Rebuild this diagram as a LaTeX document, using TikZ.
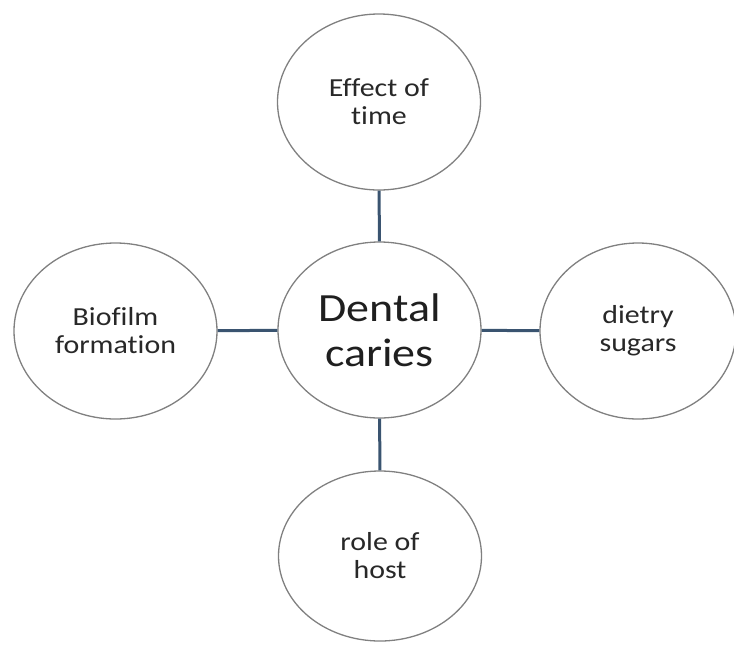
\documentclass[tikz,border=0pt]{standalone}
\usepackage{fontspec}
\setmainfont{Carlito}[FakeStretch=1.15, Ligatures=NoCommon]
\usetikzlibrary{shapes.geometric}

\definecolor{rimgray}{RGB}{128,128,128}
\definecolor{spokeblue}{RGB}{58,84,112}
\definecolor{txtgray}{RGB}{40,40,40}

\tikzset{
  bubble/.style={ellipse, draw=rimgray, line width=1.3pt, fill=white,
    minimum width=203pt, minimum height=176pt, inner sep=0pt,
    align=center, text=txtgray, font=\fontsize{26}{28}\selectfont},
  hub/.style={bubble, text=black!88, font=\fontsize{40}{45}\selectfont},
  spoke/.style={draw=spokeblue, line width=3pt}
}

\begin{document}
\begin{tikzpicture}[x=1pt,y=1pt,yscale=-1,xscale=1]

            \useasboundingbox (0,0) rectangle (734,646);

            %Shape: Ellipse [centre]
            \node[hub] (caries) at (379.5,330) {Dental\\caries};
            %Shape: Ellipse [top]
            \node[bubble] (time) at (379,102) {Effect of\\time};
            %Shape: Ellipse [left]
            \node[bubble] (biofilm) at (115.5,331) {Biofilm\\formation};
            %Shape: Ellipse [right]
            \node[bubble, minimum width=196pt] (sugars) at (638,331) {dietry\\sugars};
            %Shape: Ellipse [bottom]
            \node[bubble, minimum height=170pt] (host) at (380,556) {role of\\host};

            %Straight Lines
            \draw[spoke] (caries) -- (time);
            \draw[spoke] (caries) -- (biofilm);
            \draw[spoke] (caries) -- (sugars);
            \draw[spoke] (caries) -- (host);

        \end{tikzpicture}
\end{document}
